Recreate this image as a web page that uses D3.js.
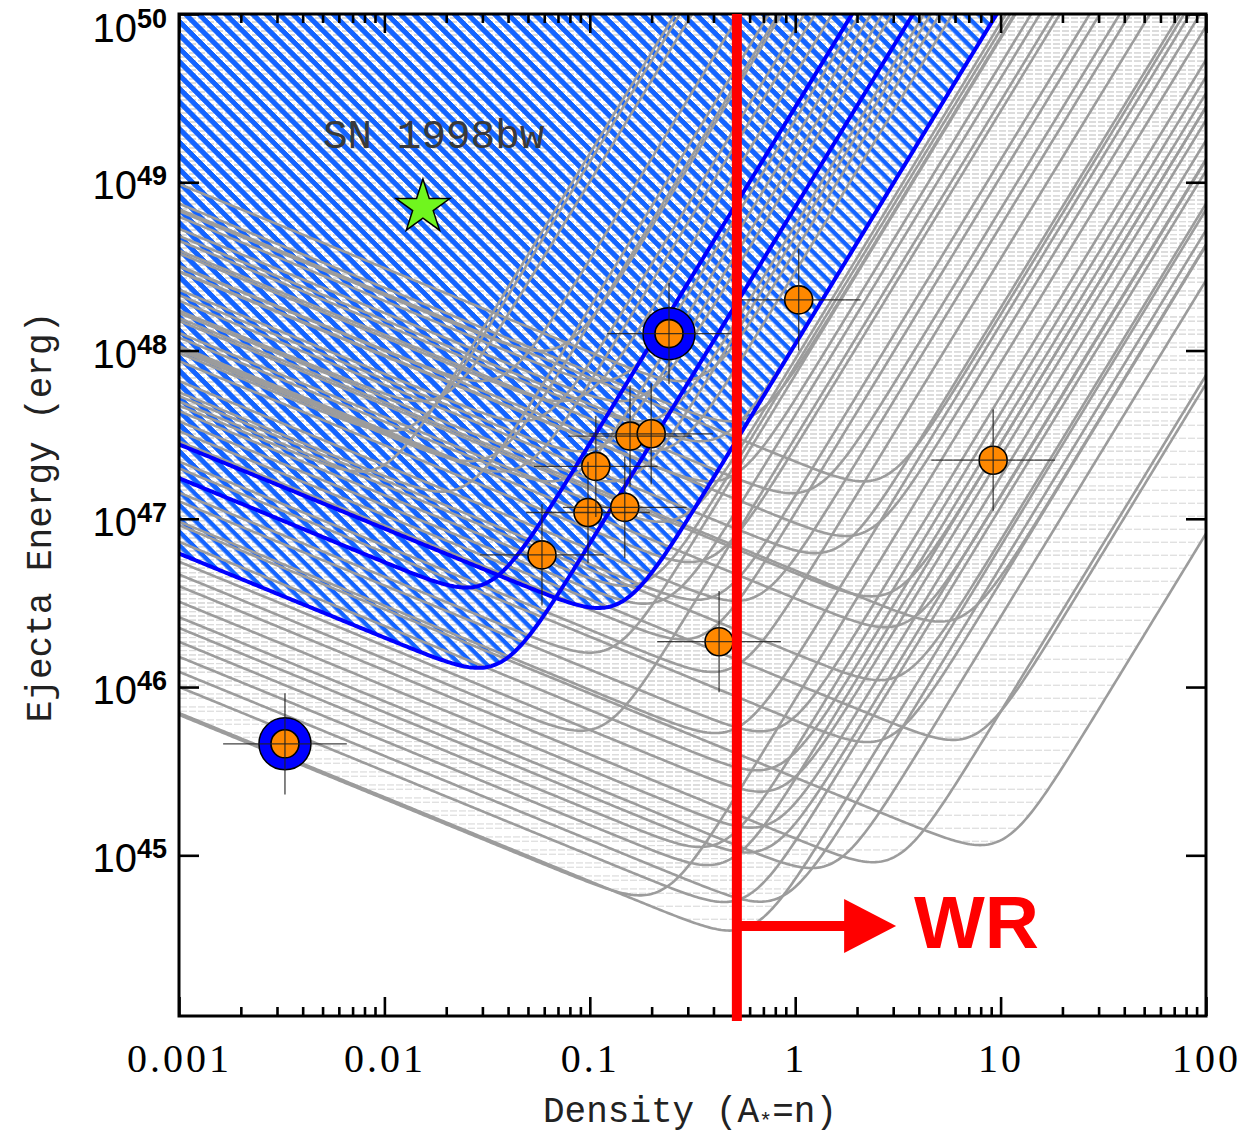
<!DOCTYPE html>
<html>
<head>
<meta charset="utf-8">
<script src="https://cdn.jsdelivr.net/npm/d3@7"></script>
<style>
body{margin:0;background:#fff}
</style>
</head>
<body>
<div id="chart"></div>
<script>
// model curves, each given by its minimum (density, energy)
const grayN0=[0.0076,0.0106,0.0149,0.0190,0.0260,0.0292,0.0366,0.0457,0.0573,0.064,0.0716,0.0895,0.112,0.125,0.14,0.175,0.196,0.22,0.275,0.344,0.385,0.482,
0.175,0.482,0.582,2.39,7.94,2.24,5.07,2.14,
0.184,0.282,0.396,0.10,0.676,0.408,0.651,0.676,0.09,0.607,1.2,0.344,0.374,0.676,0.449,2.57,0.514,0.306,1.25,2.35,0.959,1.76,2.74,5.85,0.149,0.33]
const grayE0=[1.91e47,3.32e47,5.0e47,1.45e47,2.2e47,6.59e47,1.91e47,3.8e47,9.95e47,1.67e47,5.0e47,2.52e47,6.59e47,1.67e47,5.0e47,3.8e47,2.52e47,9.6e46,6.59e47,2.89e47,1.67e47,3.8e47,
5.78e44,3.57e44,1.04e45,9.1e44,1.15e45,4.71e45,2.45e46,1.67e47,
3.13e46,1.92e46,1.23e46,1.6e46,5.46e45,5.33e45,3.2e45,2.39e45,5.5e45,1.46e45,8.4e44,1.12e45,8.75e44,5.3e44,5.28e44,1.1e46,3.25e46,5.53e46,6.25e46,3.46e46,1.42e47,7.9e46,2.27e46,4.85e45,4.0e46,3.3e46]
const blueN0=[0.0250,0.0286,0.110]
const blueE0=[3.9e46,1.30e46,2.95e46]

// measured bursts
const ptN=[0.00328,0.243,1.04,9.2,0.0585,0.098,0.107,0.148,0.157,0.199,0.426]
const ptE=[4.6e45,1.26e48,2.0e48,2.23e47,6.1e46,1.09e47,2.05e47,1.17e47,3.1e47,3.2e47,1.86e46]
const ptNErr=[2,2,2,2,2,2,2,2,2,2,2]
const ptEErr=[2,2,2,2,2,2,2,2,2,2,2]
const ptRing=[true,true,false,false,false,false,false,false,false,false,false]

const snN=[0.0154]
const snE=[7.1e48]
const snLabel="SN 1998bw"

const xTicks=[0.001,0.01,0.1,1,10,100]
const xTickLabels=["0.001","0.01","0.1","1","10","100"]
const yTicks=[1e45,1e46,1e47,1e48,1e49,1e50]
const yTickExp=["45","46","47","48","49","50"]

const wrDensity=0.52
const wrArrowE=3.8e44
const wrArrowTip=3.1
const wrLabel="WR"

const W=1247,H=1134
const L=179,R=1206,T=14,B=1016

const x=d3.scaleLog().domain([0.001,100]).range([L,R])
const y=d3.scaleLog().domain([Math.pow(10,44.045),1e50]).range([B,T])

const svg=d3.select("#chart").append("svg")
.attr("width",W).attr("height",H)
.style("font-family","Liberation Serif")

const defs=svg.append("defs")
defs.append("clipPath").attr("id","plot")
.append("rect").attr("x",L).attr("y",T).attr("width",R-L).attr("height",B-T)

// faint horizontal hatching, three offsets
for(let k=0;k<3;k++){
const p=defs.append("pattern").attr("id","hh"+k)
.attr("patternUnits","userSpaceOnUse").attr("width",9).attr("height",13)
p.append("rect").attr("x",0).attr("y",k*4.33).attr("width",7).attr("height",1.2).attr("fill","#dcdcdc")
}
// blue diagonal hatching
const bp=defs.append("pattern").attr("id","bh")
.attr("patternUnits","userSpaceOnUse").attr("width",40).attr("height",9.5)
.attr("patternTransform","rotate(45)")
bp.append("rect").attr("x",0).attr("y",0).attr("width",40).attr("height",4.4).attr("fill","#1464ff")

function curve(n0,e0){
return d3.range(-300,201).map(i=>{
const n=Math.pow(10,i/100),u=n/n0
return [n,Math.min(e0*Math.sqrt(0.8/u+0.2*Math.pow(u,4)),1e52)]
})
}
const grayCurves=grayN0.map((n,i)=>curve(n,grayE0[i]))
const blueCurves=blueN0.map((n,i)=>curve(n,blueE0[i]))

const line=d3.line().x(d=>x(d[0])).y(d=>y(d[1]))
const above=d3.area().x(d=>x(d[0])).y0(T-400).y1(d=>y(d[1]))

const plot=svg.append("g").attr("clip-path","url(#plot)")

plot.selectAll(".hh").data(grayCurves).enter().append("path")
.attr("d",above).attr("fill",(d,i)=>"url(#hh"+(i%3)+")")

plot.selectAll(".bh").data(blueCurves).enter().append("path")
.attr("d",above).attr("fill","url(#bh)")

plot.selectAll(".gc").data(grayCurves).enter().append("path")
.attr("d",line).attr("fill","none").attr("stroke","#9c9c9c").attr("stroke-width",2.6)

plot.selectAll(".bc").data(blueCurves).enter().append("path")
.attr("d",line).attr("fill","none").attr("stroke","#0000ff").attr("stroke-width",4)

// axes
const minorX=[]
xTicks.slice(0,-1).forEach(d=>{for(let k=2;k<10;k++)minorX.push(d*k)})

svg.append("g").attr("transform","translate(0,"+B+")")
.call(d3.axisBottom(x).tickValues(minorX).tickSize(-9).tickFormat(""))
svg.append("g").attr("transform","translate(0,"+T+")")
.call(d3.axisTop(x).tickValues(minorX).tickSize(-9).tickFormat(""))
const xb=svg.append("g").attr("transform","translate(0,"+B+")")
.call(d3.axisBottom(x).tickValues(xTicks).tickSize(-19).tickPadding(28).tickFormat((d,i)=>xTickLabels[i]))
svg.append("g").attr("transform","translate(0,"+T+")")
.call(d3.axisTop(x).tickValues(xTicks).tickSize(-19).tickFormat(""))
svg.append("g").attr("transform","translate("+L+",0)")
.call(d3.axisLeft(y).tickValues(yTicks).tickSize(-20).tickFormat(""))
svg.append("g").attr("transform","translate("+R+",0)")
.call(d3.axisRight(y).tickValues(yTicks).tickSize(-20).tickFormat(""))

svg.selectAll(".domain").remove()
svg.selectAll(".tick line").attr("stroke","#000").attr("stroke-width",2.6)
xb.selectAll("text").attr("fill","#000").style("font-family","Liberation Serif")
.style("font-size","40px").style("letter-spacing","3px")

svg.append("rect").attr("x",L).attr("y",T).attr("width",R-L).attr("height",B-T)
.attr("fill","none").attr("stroke","#000").attr("stroke-width",3)

const yl=svg.append("g").selectAll("text").data(yTicks).enter().append("text")
.attr("x",167).attr("y",d=>Math.max(y(d)+17,42))
.attr("text-anchor","end").style("font-family","Liberation Sans").attr("fill","#000")
yl.append("tspan").style("font-size","40px").text("10")
yl.append("tspan").style("font-size","27px").style("font-weight","bold")
.attr("dy",-14).text((d,i)=>yTickExp[i])

svg.append("text").attr("transform","translate(51,517) rotate(-90)")
.attr("text-anchor","middle").style("font-family","Liberation Mono").style("font-size","36px")
.attr("fill","#222").text("Ejecta Energy (erg)")

const xt=svg.append("text").attr("x",690).attr("y",1122)
.attr("text-anchor","middle").style("font-family","Liberation Mono").style("font-size","36px")
.attr("fill","#222")
xt.append("tspan").text("Density (A")
xt.append("tspan").style("font-size","22px").attr("dy",6).text("*")
xt.append("tspan").attr("dy",-6).text("=n)")

// points
const pts=ptN.map((n,i)=>({n:n,e:ptE[i],fx:ptNErr[i],fy:ptEErr[i],ring:ptRing[i]}))
const pg=svg.append("g")
pg.selectAll(".ring").data(pts.filter(d=>d.ring)).enter().append("circle")
.attr("cx",d=>x(d.n)).attr("cy",d=>y(d.e)).attr("r",26)
.attr("fill","#0000ff").attr("stroke","#000").attr("stroke-width",1.5)
pg.selectAll(".dot").data(pts).enter().append("circle")
.attr("cx",d=>x(d.n)).attr("cy",d=>y(d.e)).attr("r",14)
.attr("fill","#ff8800").attr("stroke","#000").attr("stroke-width",1.6)
pg.selectAll(".ex").data(pts).enter().append("line")
.attr("x1",d=>x(d.n/d.fx)).attr("x2",d=>x(d.n*d.fx))
.attr("y1",d=>y(d.e)).attr("y2",d=>y(d.e))
.attr("stroke","#222").attr("stroke-width",1.3).attr("opacity",0.85)
pg.selectAll(".ey").data(pts).enter().append("line")
.attr("x1",d=>x(d.n)).attr("x2",d=>x(d.n))
.attr("y1",d=>y(d.e/d.fy)).attr("y2",d=>y(d.e*d.fy))
.attr("stroke","#222").attr("stroke-width",1.3).attr("opacity",0.85)

// SN 1998bw
svg.selectAll(".sn").data(snN).enter().append("path")
.attr("d",d3.symbol(d3.symbolStar,900))
.attr("transform",(d,i)=>"translate("+x(d)+","+y(snE[i])+")")
.attr("fill","#70f51e").attr("stroke","#000").attr("stroke-width",1.5)
svg.append("text").attr("x",323).attr("y",148)
.style("font-family","Liberation Mono").style("font-size","41px").attr("fill","#3a3a3a").text(snLabel)

// WR threshold
const wx=x(wrDensity)
svg.append("line").attr("x1",wx).attr("x2",wx).attr("y1",T).attr("y2",B+5)
.attr("stroke","#ff0000").attr("stroke-width",10)
const ay=y(wrArrowE),tip=x(wrArrowTip)
svg.append("line").attr("x1",wx).attr("x2",tip-50).attr("y1",ay).attr("y2",ay)
.attr("stroke","#ff0000").attr("stroke-width",10)
svg.append("path").attr("d","M"+(tip-52)+","+(ay-27)+"L"+tip+","+ay+"L"+(tip-52)+","+(ay+27)+"Z")
.attr("fill","#ff0000")
svg.append("text").attr("x",914).attr("y",948)
.style("font-family","Liberation Sans").style("font-weight","bold").style("font-size","75px")
.attr("fill","#ff0000").text(wrLabel)
</script>
</body>
</html>
